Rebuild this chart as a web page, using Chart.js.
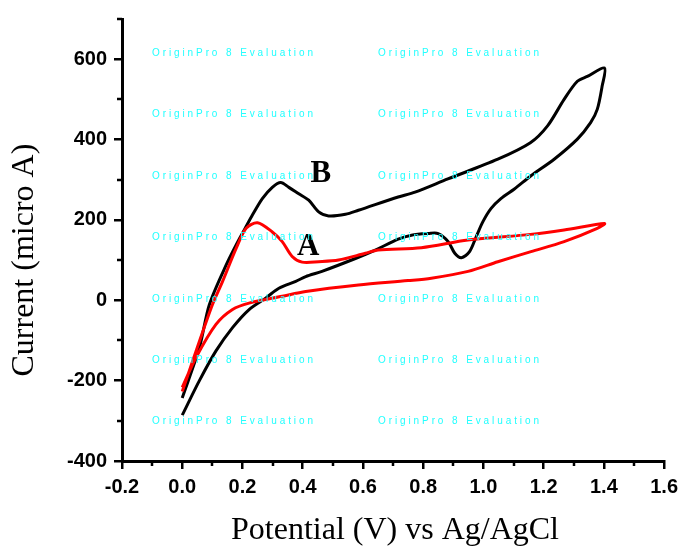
<!DOCTYPE html>
<html>
<head>
<meta charset="utf-8">
<title>Cyclic voltammograms A and B</title>
<script src="https://cdn.jsdelivr.net/npm/chart.js@4.4.0/dist/chart.umd.min.js"></script>
<style>
    html, body { margin: 0; padding: 0; background: #fff; }
    #wrap { width: 684px; height: 546px; }
</style>
</head>
<body>
<div id="wrap"><canvas id="cvChart" width="684" height="546"></canvas></div>
<script>
// Curve A (red): sweep 0 -> 1.4 V and back to 0 V
var aPotential = [0.0, 0.096, 0.134, 0.179, 0.212, 0.25, 0.299, 0.332, 0.365, 0.398, 0.453, 0.519, 0.608, 0.651, 0.794, 0.949, 1.156, 1.268, 1.402,
                  1.378, 1.268, 1.158, 1.048, 0.949, 0.827, 0.75, 0.585, 0.41, 0.332, 0.222, 0.167, 0.112, 0.046, 0.0];
var aCurrent = [-227, -19, 47, 129, 179, 193, 170, 146, 109, 95, 96, 100, 117, 125, 131, 150, 164, 175, 191,
                179, 146, 121, 96, 72, 55, 49, 38, 22, 10, -7, -23, -60, -142, -217];

// Curve B (black)
var bPotential = [0.0, 0.057, 0.09, 0.146, 0.189, 0.206, 0.233, 0.266, 0.299, 0.327, 0.354, 0.387, 0.42, 0.453, 0.486, 0.542, 0.585, 0.717, 0.773, 0.882, 1.048, 1.156, 1.213, 1.268, 1.312, 1.345, 1.402,
                  1.394, 1.378, 1.356, 1.312, 1.235, 1.158, 1.103, 1.058, 1.025, 0.998, 0.976, 0.954, 0.927, 0.905, 0.883, 0.85, 0.817, 0.761, 0.717, 0.641, 0.575, 0.464, 0.41, 0.377, 0.321, 0.278, 0.222, 0.167, 0.112, 0.057, 0.0];
var bCurrent = [-243, -118, -11, 88, 152, 175, 212, 253, 281, 293, 281, 265, 249, 220, 210, 214, 224, 257, 269, 302, 351, 392, 434, 500, 545, 557, 578,
                532, 475, 442, 401, 351, 310, 277, 253, 228, 195, 158, 121, 106, 117, 146, 166, 166, 162, 152, 125, 104, 72, 59, 47, 30, 6, -23, -68, -126, -200, -286];

var xTicks = [-0.2, 0.0, 0.2, 0.4, 0.6, 0.8, 1.0, 1.2, 1.4, 1.6];
var yTicks = [-400, -200, 0, 200, 400, 600];
var yMax = 700;

// curve labels, placed at data coordinates
var curveNames = ['A', 'B'];
var namePotential = [0.381, 0.426];
var nameCurrent = [113, 294];

var watermark = 'OriginPro 8 Evaluation';
var watermarkCols = [152, 378];
var watermarkRows = [52, 113, 175, 236, 298, 359, 420];

function toPoints(xs, ys) {
    var pts = [];
    for (var i = 0; i < xs.length; i++) {
        pts.push({x: xs[i], y: ys[i]});
    }
    return pts;
}

// midpoints between major ticks
function minorValues(ticks) {
    var out = [];
    for (var i = 0; i < ticks.length - 1; i++) {
        out.push((ticks[i] + ticks[i + 1]) / 2);
    }
    return out;
}

var xMinor = minorValues(xTicks);
var yMinor = minorValues(yTicks).concat([yMax]);

var extrasPlugin = {
    id: 'extras',
    afterDraw: function(chart) {
        var ctx = chart.ctx;
        var xs = chart.scales.x;
        var ys = chart.scales.y;
        var area = chart.chartArea;
        ctx.save();

        // minor ticks
        ctx.strokeStyle = '#000';
        ctx.lineWidth = 2.5;
        ctx.beginPath();
        xMinor.forEach(function(v) {
            var px = Math.round(xs.getPixelForValue(v));
            ctx.moveTo(px, area.bottom);
            ctx.lineTo(px, area.bottom + 5);
        });
        yMinor.forEach(function(v) {
            var py = Math.round(ys.getPixelForValue(v));
            ctx.moveTo(area.left, py);
            ctx.lineTo(area.left - 5, py);
        });
        ctx.stroke();

        // curve names
        ctx.fillStyle = '#000';
        ctx.font = 'bold 31px "Liberation Serif", "Times New Roman", serif';
        ctx.textAlign = 'left';
        ctx.textBaseline = 'alphabetic';
        for (var i = 0; i < curveNames.length; i++) {
            ctx.fillText(curveNames[i], xs.getPixelForValue(namePotential[i]), ys.getPixelForValue(nameCurrent[i]));
        }

        // axis titles
        ctx.font = '32px "Liberation Serif", "Times New Roman", serif';
        ctx.textAlign = 'center';
        ctx.fillText('Potential (V) vs Ag/AgCl', 395, 539);
        ctx.save();
        ctx.translate(33, ys.getPixelForValue((yTicks[0] + yTicks[yTicks.length - 1]) / 2));
        ctx.rotate(-Math.PI / 2);
        ctx.fillText('Current (micro A)', 0, 0);
        ctx.restore();

        // evaluation watermark
        ctx.fillStyle = '#22ffff';
        ctx.font = '10px "Liberation Sans", Arial, sans-serif';
        ctx.textAlign = 'left';
        ctx.textBaseline = 'middle';
        ctx.letterSpacing = '2.9px';
        watermarkRows.forEach(function(y) {
            watermarkCols.forEach(function(x) {
                ctx.fillText(watermark, x, y + 1);
            });
        });
        ctx.restore();
    }
};

var tickFont = {family: '"Liberation Sans", Arial, sans-serif', size: 20, weight: 'bold'};

new Chart(document.getElementById('cvChart'), {
    type: 'scatter',
    data: {
        datasets: [{
            label: 'A',
            data: toPoints(aPotential, aCurrent),
            showLine: true,
            borderColor: '#ff0000',
            borderWidth: 3,
            pointRadius: 0,
            tension: 0.3
        }, {
            label: 'B',
            data: toPoints(bPotential, bCurrent),
            showLine: true,
            borderColor: '#000000',
            borderWidth: 3,
            pointRadius: 0,
            tension: 0.3
        }]
    },
    options: {
        responsive: false,
        animation: false,
        layout: {
            padding: {top: 15, right: 16, left: 0, bottom: 0}
        },
        plugins: {
            legend: {display: false},
            tooltip: {enabled: false}
        },
        scales: {
            x: {
                type: 'linear',
                min: xTicks[0],
                max: xTicks[xTicks.length - 1],
                afterBuildTicks: function(scale) {
                    scale.ticks = xTicks.map(function(v) { return {value: v}; });
                },
                afterFit: function(scale) {
                    scale.height = 85;
                },
                border: {display: true, color: '#000', width: 3},
                grid: {drawOnChartArea: false, drawTicks: true, tickLength: 8, color: '#000', lineWidth: 2.5},
                ticks: {
                    color: '#000',
                    font: tickFont,
                    padding: 6,
                    maxRotation: 0,
                    autoSkip: false,
                    callback: function(v) { return Number(v).toFixed(1); }
                }
            },
            y: {
                type: 'linear',
                min: yTicks[0],
                max: yMax,
                afterBuildTicks: function(scale) {
                    scale.ticks = yTicks.map(function(v) { return {value: v}; });
                },
                afterFit: function(scale) {
                    scale.width = 122;
                },
                border: {display: true, color: '#000', width: 3},
                grid: {drawOnChartArea: false, drawTicks: true, tickLength: 8, color: '#000', lineWidth: 2.5},
                ticks: {
                    color: '#000',
                    font: tickFont,
                    padding: 7,
                    autoSkip: false,
                    callback: function(v) { return String(v); }
                }
            }
        }
    },
    plugins: [extrasPlugin]
});
</script>
</body>
</html>
